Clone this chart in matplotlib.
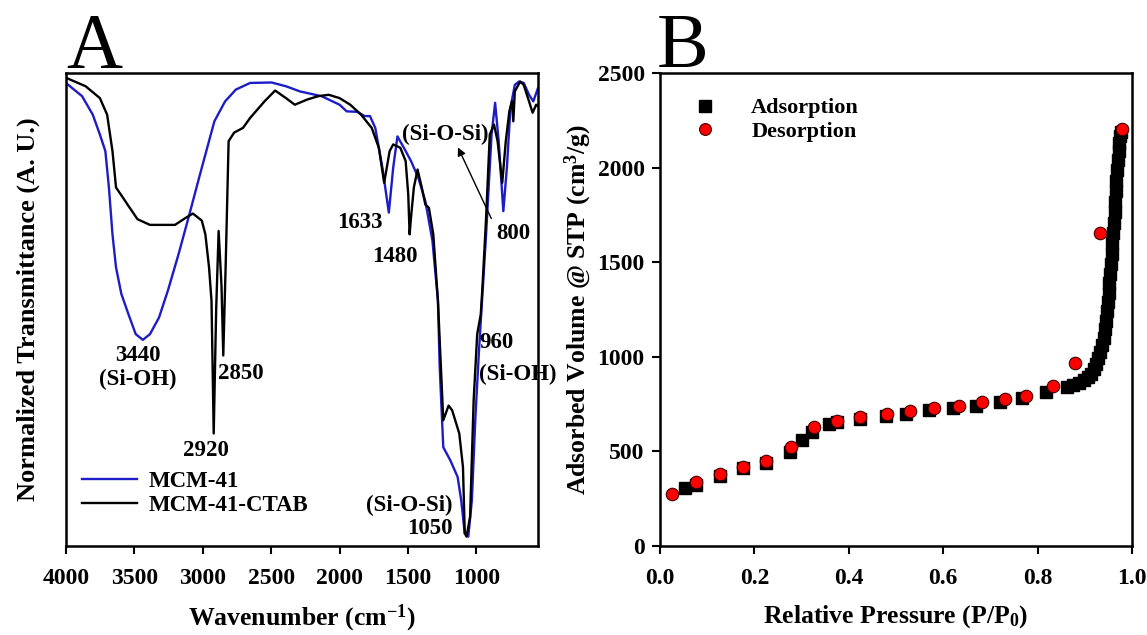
import numpy as np
import matplotlib
matplotlib.use('Agg')
import matplotlib.pyplot as plt

plt.rcParams['font.family'] = ['Liberation Serif', 'DejaVu Serif']
plt.rcParams['font.weight'] = 'bold'
plt.rcParams['axes.labelweight'] = 'bold'
plt.rcParams['mathtext.fontset'] = 'custom'
plt.rcParams['mathtext.rm'] = 'Liberation Serif:bold'
plt.rcParams['mathtext.it'] = 'Liberation Serif:bold'
plt.rcParams['mathtext.bf'] = 'Liberation Serif:bold'

# ---- panel A: FTIR spectra (wavenumber, normalized transmittance) ----
mcm41_wn = [4000, 3882, 3804, 3752, 3712, 3686, 3660, 3634, 3595, 3543, 3490, 3438,
            3386, 3320, 3255, 3177, 3098, 3020, 2915, 2837, 2758, 2654, 2497, 2392,
            2288, 2131, 2000, 1948, 1870, 1817, 1778, 1739, 1687, 1640, 1608, 1577,
            1530, 1478, 1425, 1373, 1321, 1281, 1268, 1242, 1190, 1137, 1111, 1085,
            1059, 1033, 1007, 981, 929, 889, 863, 837, 803, 777, 751, 719, 688, 654,
            615, 584, 550]
mcm41_t = [0.979, 0.951, 0.912, 0.870, 0.835, 0.758, 0.659, 0.589, 0.533, 0.490, 0.448, 0.436,
           0.448, 0.483, 0.540, 0.617, 0.701, 0.786, 0.898, 0.940, 0.965, 0.979, 0.980, 0.972,
           0.961, 0.951, 0.933, 0.919, 0.918, 0.909, 0.909, 0.884, 0.800, 0.705, 0.800, 0.866,
           0.842, 0.814, 0.779, 0.729, 0.645, 0.519, 0.378, 0.209, 0.181, 0.146, 0.097, 0.027,
           0.020, 0.097, 0.273, 0.413, 0.659, 0.870, 0.937, 0.856, 0.708, 0.800, 0.926, 0.975,
           0.982, 0.979, 0.954, 0.940, 0.968]

ctab_wn = [4000, 3856, 3752, 3699, 3660, 3634, 3582, 3543, 3477, 3386, 3203, 3124,
           3072, 3007, 2981, 2954, 2936, 2920, 2902, 2884, 2863, 2850, 2832, 2811,
           2771, 2706, 2654, 2549, 2471, 2392, 2327, 2236, 2157, 2079, 2000, 1922,
           1843, 1765, 1713, 1674, 1634, 1608, 1556, 1517, 1498, 1488, 1478, 1457,
           1430, 1399, 1373, 1347, 1315, 1281, 1242, 1203, 1177, 1125, 1098, 1085,
           1072, 1046, 1020, 994, 968, 955, 929, 902, 871, 845, 811, 785, 759, 740,
           730, 719, 680, 654, 615, 589, 563, 550]
ctab_t = [0.990, 0.972, 0.947, 0.912, 0.835, 0.758, 0.736, 0.719, 0.691, 0.679, 0.679, 0.694,
          0.703, 0.688, 0.659, 0.589, 0.518, 0.238, 0.500, 0.666, 0.550, 0.403, 0.600, 0.856,
          0.874, 0.884, 0.905, 0.940, 0.963, 0.947, 0.933, 0.944, 0.951, 0.954, 0.947, 0.933,
          0.912, 0.884, 0.842, 0.768, 0.835, 0.849, 0.842, 0.814, 0.743, 0.659, 0.694, 0.758,
          0.796, 0.758, 0.722, 0.715, 0.659, 0.519, 0.266, 0.297, 0.287, 0.238, 0.167, 0.027,
          0.020, 0.062, 0.308, 0.448, 0.490, 0.550, 0.694, 0.870, 0.891, 0.856, 0.768, 0.856,
          0.919, 0.940, 0.898, 0.961, 0.982, 0.975, 0.940, 0.916, 0.933, 0.930]

# ---- panel B: N2 isotherm (relative pressure, volume) ----
ads_p = [0.053, 0.077, 0.127, 0.176, 0.224, 0.276, 0.300, 0.323, 0.359, 0.375, 0.423,
         0.478, 0.522, 0.570, 0.621, 0.669, 0.720, 0.768, 0.818, 0.863, 0.875, 0.887,
         0.898, 0.906, 0.913, 0.919, 0.924, 0.929, 0.933, 0.937, 0.940, 0.943, 0.945,
         0.947, 0.949, 0.951, 0.952, 0.954, 0.955, 0.957, 0.958, 0.960, 0.961, 0.963,
         0.964, 0.966, 0.967, 0.969, 0.970, 0.972, 0.973, 0.975, 0.977]
ads_v = [305, 325, 372, 411, 437, 499, 561, 605, 645, 658, 672,
         690, 700, 718, 732, 743, 764, 781, 813, 843, 850, 862,
         877, 893, 912, 935, 962, 992, 1025, 1062, 1100, 1145, 1190,
         1240, 1290, 1340, 1390, 1440, 1490, 1545, 1600, 1655, 1710, 1765,
         1820, 1875, 1930, 1985, 2040, 2090, 2130, 2165, 2190]
des_p = [0.025, 0.077, 0.127, 0.176, 0.224, 0.278, 0.326, 0.375, 0.424, 0.482, 0.530,
         0.581, 0.633, 0.682, 0.732, 0.776, 0.832, 0.879, 0.932, 0.979]
des_v = [273, 337, 381, 416, 451, 524, 628, 661, 681, 697, 714,
         728, 743, 760, 780, 794, 848, 965, 1655, 2205]

fig = plt.figure(figsize=(11.47, 6.35), dpi=100)
axA = fig.add_axes([0.0575, 0.140, 0.4115, 0.745])
axB = fig.add_axes([0.5754, 0.140, 0.4115, 0.745])

# ----- A -----
axA.plot(mcm41_wn, mcm41_t, color='#1c1cc8', lw=1.7, label='MCM-41')
axA.plot(ctab_wn, ctab_t, color='black', lw=1.7, label='MCM-41-CTAB')
axA.set_xlim(4000, 550)
axA.set_ylim(0, 1)
axA.set_xticks([4000, 3500, 3000, 2500, 2000, 1500, 1000])
axA.set_yticks([])
axA.tick_params(axis='x', direction='out', length=6, width=1.5, labelsize=17, pad=10)
axA.set_xlabel('Wavenumber (cm$^{-1}$)', fontsize=18.5)
axA.xaxis.set_label_coords(0.5, -0.12)
axA.set_ylabel('Normalized Transmittance (A. U.)', fontsize=19)
axA.yaxis.set_label_coords(-0.055, 0.5)

fs = 16.5
axA.text(3477, 0.425, '3440\n(Si-OH)', ha='center', va='top', fontsize=fs, linespacing=1.15)
axA.text(2889, 0.364, '2850', ha='left', va='center', fontsize=fs)
axA.text(2975, 0.202, '2920', ha='center', va='center', fontsize=fs)
axA.text(1687, 0.684, '1633', ha='right', va='center', fontsize=fs)
axA.text(1595, 0.613, '1480', ha='center', va='center', fontsize=fs)
axA.text(1224, 0.870, '(Si-O-Si)', ha='center', va='center', fontsize=fs)
axA.text(727, 0.661, '800', ha='center', va='center', fontsize=fs)
axA.annotate('', xy=(1143, 0.848), xytext=(882, 0.687),
             arrowprops=dict(arrowstyle='-|>', color='black', lw=1.0, mutation_scale=12))
axA.text(981, 0.431, '960', ha='left', va='center', fontsize=fs)
axA.text(981, 0.363, '(Si-OH)', ha='left', va='center', fontsize=fs)
axA.text(1177, 0.086, '(Si-O-Si)', ha='right', va='center', fontsize=fs)
axA.text(1177, 0.037, '1050', ha='right', va='center', fontsize=fs)
axA.legend(loc='lower left', bbox_to_anchor=(-0.01, 0.02), frameon=False, fontsize=16.5,
           handlelength=2.4, handletextpad=0.5, labelspacing=0.15)

# ----- B -----
axB.plot(ads_p, ads_v, 's', color='black', ms=9, label='Adsorption')
axB.plot(des_p, des_v, 'o', color='red', mec='#400000', mew=0.8, ms=9, label='Desorption')
axB.set_xlim(0, 1)
axB.set_ylim(0, 2500)
axB.set_xticks([0.0, 0.2, 0.4, 0.6, 0.8, 1.0])
axB.set_yticks([0, 500, 1000, 1500, 2000, 2500])
axB.tick_params(direction='out', length=6, width=1.5, labelsize=17, pad=5)
axB.tick_params(axis='x', pad=10)
axB.set_xlabel('Relative Pressure (P/P$_0$)', fontsize=18.5)
axB.xaxis.set_label_coords(0.5, -0.12)
axB.set_ylabel('Adsorbed Volume @ STP (cm$^3$/g)', fontsize=18.5)
axB.yaxis.set_label_coords(-0.14, 0.5)
axB.legend(loc='upper left', bbox_to_anchor=(0.005, 0.99), frameon=False, fontsize=16,
           handletextpad=1.1, labelspacing=0.15, markerscale=0.95)

for ax in (axA, axB):
    for sp in ax.spines.values():
        sp.set_linewidth(1.8)

fig.text(0.0575, 0.894, 'A', fontsize=56, fontweight='normal', va='baseline')
fig.text(0.573, 0.894, 'B', fontsize=56, fontweight='normal', va='baseline')

plt.savefig('out.png', dpi=100)
